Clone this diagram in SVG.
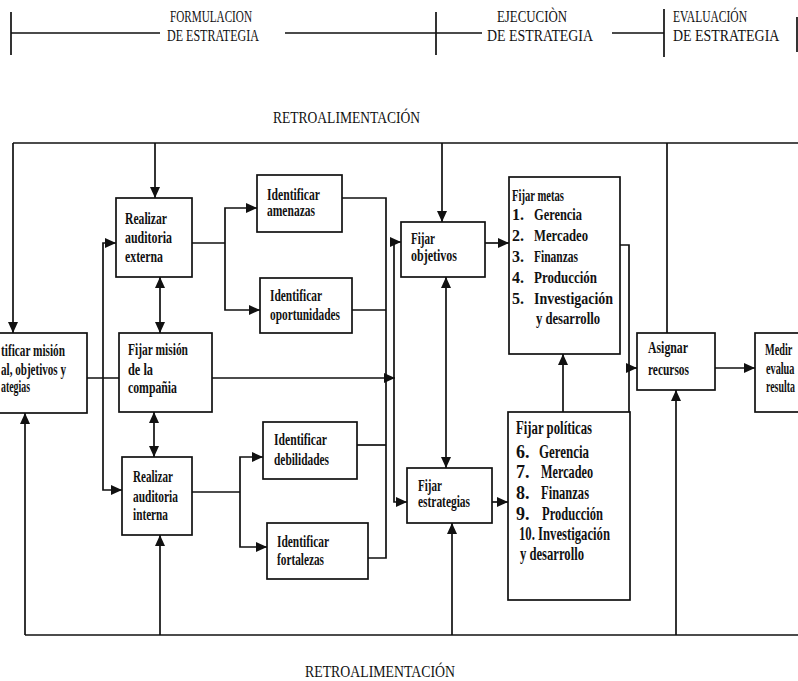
<svg xmlns="http://www.w3.org/2000/svg" width="798" height="681" viewBox="0 0 798 681">
  <style>
    .box { fill: #fff; stroke: #111; stroke-width: 1.7; }
    .ln { fill: none; stroke: #111; stroke-width: 1.7; }
    .arr { marker-end: url(#ah); }
    .both { marker-start: url(#ah); marker-end: url(#ah); }
    .t { font-family: "Liberation Serif", "Times New Roman", serif; font-weight: bold; font-size: 16px; fill: #111; }
    .tb { font-family: "Liberation Serif", "Times New Roman", serif; font-weight: bold; font-size: 18px; fill: #111; }
    .h { font-family: "Liberation Serif", "Times New Roman", serif; font-size: 17px; fill: #111; }
  </style>
  <defs>
    <marker id="ah" markerUnits="userSpaceOnUse" markerWidth="12" markerHeight="11" refX="11" refY="5" orient="auto-start-reverse">
      <path d="M0,0 L11,5 L0,10 z" fill="#111"/>
    </marker>
  </defs>
  <rect width="798" height="681" fill="#fff"/>

  <!-- phase header -->
  <g id="header">
    <path class="ln" d="M11,12 V55 M11,33 H160 M285,33 H482 M436,12 V55 M612,33 H664 M664,9 V57 M797,17 V52"/>
    <text class="h" x="170" y="22" textLength="82" lengthAdjust="spacingAndGlyphs">FORMULACION</text>
    <text class="h" x="167" y="41" textLength="92" lengthAdjust="spacingAndGlyphs">DE ESTRATEGIA</text>
    <text class="h" x="497" y="22" textLength="70" lengthAdjust="spacingAndGlyphs">EJECUCIÒN</text>
    <text class="h" x="487" y="41" textLength="106" lengthAdjust="spacingAndGlyphs">DE ESTRATEGIA</text>
    <text class="h" x="673" y="22" textLength="74" lengthAdjust="spacingAndGlyphs">EVALUACIÓN</text>
    <text class="h" transform="translate(673,41) scale(0.82,1)">DE ESTRATEGIA</text>
  </g>

  <text class="h" x="273" y="123" textLength="147" lengthAdjust="spacingAndGlyphs">RETROALIMENTACIÓN</text>
  <text class="h" x="305" y="677" textLength="150" lengthAdjust="spacingAndGlyphs">RETROALIMENTACIÓN</text>

  <!-- connectors -->
  <g id="connectors">
    <!-- top feedback loop -->
    <path class="ln" d="M13,143 H798"/>
    <path class="ln arr" d="M13,143 V333"/>
    <path class="ln arr" d="M155,143 V198"/>
    <path class="ln arr" d="M442,143 V222"/>
    <path class="ln" d="M667,143 V333"/>
    <!-- bottom feedback loop -->
    <path class="ln" d="M25,635 H798"/>
    <path class="ln arr" d="M25,635 V413"/>
    <path class="ln arr" d="M160,635 V535"/>
    <path class="ln arr" d="M452,635 V523"/>
    <path class="ln arr" d="M676,635 V390"/>
    <!-- mission to audits -->
    <path class="ln" d="M87,378 H120"/>
    <path class="ln both" d="M116,243 H103 V490 H122"/>
    <path class="ln both" d="M160,277 V333"/>
    <path class="ln both" d="M154,412 V457"/>
    <path class="ln arr" d="M212,378 H395"/>
    <!-- audits to threats/opportunities/weaknesses/strengths -->
    <path class="ln" d="M192,243 H225"/>
    <path class="ln both" d="M257,208 H225 V310 H260"/>
    <path class="ln" d="M192,492 H240"/>
    <path class="ln both" d="M263,457 H240 V547 H267"/>
    <!-- collector -->
    <path class="ln" d="M342,198 H386 V558 H368"/>
    <path class="ln" d="M352,310 H386"/>
    <path class="ln" d="M357,445 H386"/>
    <path class="ln both" d="M401,242 H394 V502 H407"/>
    <!-- objectives / strategies -->
    <path class="ln arr" d="M485,243 H509"/>
    <path class="ln both" d="M446,277 V468"/>
    <path class="ln arr" d="M492,502 H508"/>
    <path class="ln arr" d="M563,412 V354"/>
    <path class="ln" d="M620,245 H629 V412"/>
    <path class="ln arr" d="M628,368 H637"/>
    <path class="ln arr" d="M715,368 H755"/>
  </g>

  <g id="identificar-mision">
    <rect class="box" x="-5" y="333" width="92" height="80"/>
    <text class="t" x="1" y="356" textLength="64" lengthAdjust="spacingAndGlyphs">tificar misión</text>
    <text class="t" x="1" y="375" textLength="65" lengthAdjust="spacingAndGlyphs">al, objetivos y</text>
    <text class="t" x="1" y="392" textLength="29" lengthAdjust="spacingAndGlyphs">ategias</text>
  </g>

  <g id="auditoria-externa">
    <rect class="box" x="116" y="198" width="76" height="79"/>
    <text class="t" x="125" y="224" textLength="42" lengthAdjust="spacingAndGlyphs">Realizar</text>
    <text class="t" x="125" y="243" textLength="47" lengthAdjust="spacingAndGlyphs">auditoria</text>
    <text class="t" x="125" y="262" textLength="38" lengthAdjust="spacingAndGlyphs">externa</text>
  </g>

  <g id="fijar-mision">
    <rect class="box" x="119" y="333" width="93" height="79"/>
    <text class="t" x="128" y="355" textLength="60" lengthAdjust="spacingAndGlyphs">Fijar misión</text>
    <text class="t" x="128" y="375" textLength="25" lengthAdjust="spacingAndGlyphs">de la</text>
    <text class="t" x="128" y="393" textLength="49" lengthAdjust="spacingAndGlyphs">compañia</text>
  </g>

  <g id="auditoria-interna">
    <rect class="box" x="122" y="457" width="70" height="78"/>
    <text class="t" x="133" y="482" textLength="40" lengthAdjust="spacingAndGlyphs">Realizar</text>
    <text class="t" x="133" y="502" textLength="45" lengthAdjust="spacingAndGlyphs">auditoria</text>
    <text class="t" x="133" y="520" textLength="35" lengthAdjust="spacingAndGlyphs">interna</text>
  </g>

  <g id="amenazas">
    <rect class="box" x="257" y="175" width="85" height="57"/>
    <text class="t" x="267" y="200" textLength="53" lengthAdjust="spacingAndGlyphs">Identificar</text>
    <text class="t" x="267" y="216" textLength="48" lengthAdjust="spacingAndGlyphs">amenazas</text>
  </g>

  <g id="oportunidades">
    <rect class="box" x="260" y="278" width="92" height="55"/>
    <text class="t" x="270" y="301" textLength="52" lengthAdjust="spacingAndGlyphs">Identificar</text>
    <text class="t" x="270" y="320" textLength="70" lengthAdjust="spacingAndGlyphs">oportunidades</text>
  </g>

  <g id="debilidades">
    <rect class="box" x="263" y="422" width="94" height="57"/>
    <text class="t" x="274" y="445" textLength="53" lengthAdjust="spacingAndGlyphs">Identificar</text>
    <text class="t" x="274" y="465" textLength="55" lengthAdjust="spacingAndGlyphs">debilidades</text>
  </g>

  <g id="fortalezas">
    <rect class="box" x="267" y="523" width="101" height="56"/>
    <text class="t" x="277" y="547" textLength="52" lengthAdjust="spacingAndGlyphs">Identificar</text>
    <text class="t" x="277" y="565" textLength="47" lengthAdjust="spacingAndGlyphs">fortalezas</text>
  </g>

  <g id="fijar-objetivos">
    <rect class="box" x="401" y="222" width="84" height="55"/>
    <text class="t" x="411" y="244" textLength="24" lengthAdjust="spacingAndGlyphs">Fijar</text>
    <text class="t" x="411" y="261" textLength="46" lengthAdjust="spacingAndGlyphs">objetivos</text>
  </g>

  <g id="fijar-estrategias">
    <rect class="box" x="407" y="468" width="85" height="55"/>
    <text class="t" x="418" y="491" textLength="24" lengthAdjust="spacingAndGlyphs">Fijar</text>
    <text class="t" x="418" y="507" textLength="52" lengthAdjust="spacingAndGlyphs">estrategias</text>
  </g>

  <g id="fijar-metas">
    <rect class="box" x="509" y="177" width="111" height="177"/>
    <text class="t" x="512" y="201" textLength="52" lengthAdjust="spacingAndGlyphs">Fijar metas</text>
    <text class="t" x="512" y="220">1.</text>
    <text class="t" x="534" y="220" textLength="48" lengthAdjust="spacingAndGlyphs">Gerencia</text>
    <text class="t" x="512" y="241">2.</text>
    <text class="t" x="534" y="241" textLength="54" lengthAdjust="spacingAndGlyphs">Mercadeo</text>
    <text class="t" x="512" y="262">3.</text>
    <text class="t" x="534" y="262" textLength="44" lengthAdjust="spacingAndGlyphs">Finanzas</text>
    <text class="t" x="512" y="283">4.</text>
    <text class="t" x="534" y="283" textLength="63" lengthAdjust="spacingAndGlyphs">Producción</text>
    <text class="t" x="512" y="304">5.</text>
    <text class="t" x="534" y="304" textLength="79" lengthAdjust="spacingAndGlyphs">Investigación</text>
    <text class="t" x="536" y="324" textLength="64" lengthAdjust="spacingAndGlyphs">y desarrollo</text>
  </g>

  <g id="fijar-politicas">
    <rect class="box" x="508" y="412" width="122" height="188"/>
    <text class="tb" x="516" y="434" textLength="76" lengthAdjust="spacingAndGlyphs">Fijar políticas</text>
    <text class="tb" x="516" y="458">6.</text>
    <text class="tb" x="539" y="458" textLength="50" lengthAdjust="spacingAndGlyphs">Gerencia</text>
    <text class="tb" x="516" y="478">7.</text>
    <text class="tb" x="541" y="478" textLength="52" lengthAdjust="spacingAndGlyphs">Mercadeo</text>
    <text class="tb" x="516" y="499">8.</text>
    <text class="tb" x="541" y="499" textLength="48" lengthAdjust="spacingAndGlyphs">Finanzas</text>
    <text class="tb" x="516" y="520">9.</text>
    <text class="tb" x="542" y="520" textLength="61" lengthAdjust="spacingAndGlyphs">Producción</text>
    <text class="tb" x="519" y="540" textLength="91" lengthAdjust="spacingAndGlyphs">10. Investigación</text>
    <text class="tb" x="520" y="560" textLength="64" lengthAdjust="spacingAndGlyphs">y desarrollo</text>
  </g>

  <g id="asignar-recursos">
    <rect class="box" x="637" y="333" width="78" height="57"/>
    <text class="t" x="648" y="353" textLength="40" lengthAdjust="spacingAndGlyphs">Asignar</text>
    <text class="t" x="648" y="375" textLength="41" lengthAdjust="spacingAndGlyphs">recursos</text>
  </g>

  <g id="medir-resultados">
    <rect class="box" x="755" y="333" width="60" height="79"/>
    <text class="t" transform="translate(765,355) scale(0.64,1)">Medir</text>
    <text class="t" transform="translate(766,374) scale(0.64,1)">evalua</text>
    <text class="t" transform="translate(766,392) scale(0.62,1)">resulta</text>
  </g>
</svg>
